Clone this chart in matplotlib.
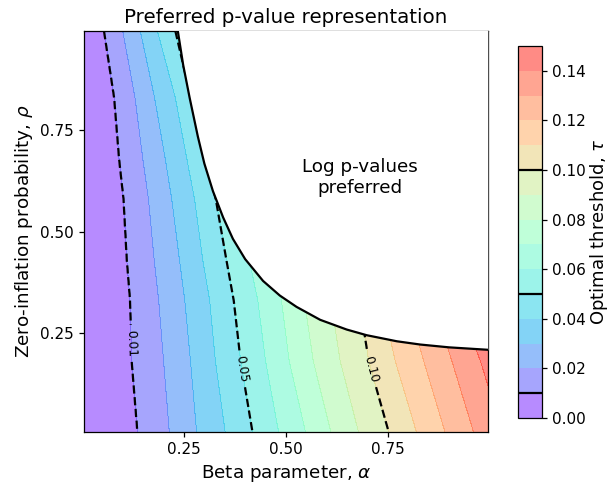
import numpy as np
import matplotlib
matplotlib.use("Agg")
import matplotlib.pyplot as plt

# Threshold levels shown as filled bands
band_levels = np.round(np.arange(0.0, 0.151, 0.01), 2)
line_levels = [0.01, 0.05, 0.10]

# Rows of zero-inflation probability at which threshold contours were read
rho_rows = [0.005, 0.18, 0.33, 0.43, 0.58, 0.68, 0.83, 0.995]

# Beta parameter where tau crosses each level (0.01 ... 0.14), one list per row
alpha_at_level = {
    0.005: [0.136, 0.214, 0.281, 0.351, 0.418, 0.482, 0.548, 0.610, 0.678, 0.752, 0.820, 0.890, 0.960, 1.030],
    0.18:  [0.122, 0.200, 0.266, 0.327, 0.389, 0.450, 0.508, 0.567, 0.633, 0.703, 0.768, 0.838, 0.907, 0.977],
    0.33:  [0.118, 0.188, 0.252, 0.313, 0.372, 0.431, 0.489, 0.545, 0.610, 0.680, 0.735, 0.795, 0.860, 0.920],
    0.43:  [0.110, 0.177, 0.239, 0.296, 0.354, 0.410, 0.470, 0.520, 0.580, 0.640, 0.700, 0.760, 0.820, 0.880],
    0.58:  [0.102, 0.163, 0.220, 0.276, 0.328, 0.380, 0.430, 0.480, 0.530, 0.590, 0.640, 0.700, 0.750, 0.810],
    0.68:  [0.091, 0.149, 0.204, 0.257, 0.303, 0.350, 0.400, 0.440, 0.490, 0.540, 0.590, 0.640, 0.690, 0.740],
    0.83:  [0.079, 0.130, 0.178, 0.229, 0.267, 0.310, 0.350, 0.390, 0.430, 0.470, 0.510, 0.550, 0.590, 0.630],
    0.995: [0.054, 0.100, 0.143, 0.185, 0.229, 0.270, 0.310, 0.350, 0.390, 0.430, 0.470, 0.510, 0.550, 0.590],
}

# Edge of the region where log p-values are preferred
boundary_alpha = [0.235, 0.248, 0.264, 0.284, 0.300, 0.321, 0.346, 0.370, 0.400, 0.444,
                  0.485, 0.526, 0.584, 0.649, 0.698, 0.772, 0.829, 0.900, 0.995]
boundary_rho = [0.995, 0.912, 0.830, 0.735, 0.668, 0.600, 0.535, 0.482, 0.432, 0.378,
                0.342, 0.314, 0.282, 0.258, 0.244, 0.229, 0.221, 0.214, 0.208]

# Build the tau field on a fine grid from the crossing positions
alpha = np.linspace(0.005, 0.995, 400)
rho = np.linspace(0.005, 0.995, 400)
crossing = np.array([alpha_at_level[r] for r in rho_rows])  # rows x levels
inner_levels = band_levels[1:-1]
tau = np.empty((rho.size, alpha.size))
for i, r in enumerate(rho):
    pos = np.array([np.interp(r, rho_rows, crossing[:, k]) for k in range(crossing.shape[1])])
    xp = np.concatenate([[0.0], pos, [pos[-1] + 0.07]])
    fp = np.concatenate([[0.0], inner_levels, [0.15]])
    tau[i] = np.interp(alpha, xp, fp)

A, R = np.meshgrid(alpha, rho)

fig = plt.figure(figsize=(6.09, 4.87), dpi=100)
ax = fig.add_axes([0.138, 0.113, 0.663, 0.823])
cax = fig.add_axes([0.8506, 0.1417, 0.0389, 0.7638])

cf = ax.contourf(A, R, tau, levels=band_levels, cmap="rainbow", alpha=0.5)
cl = ax.contour(A, R, tau, levels=line_levels, colors="k", linestyles="--", linewidths=1.6)
label_spots = [(0.125, 0.224), (0.399, 0.162), (0.716, 0.162)]
ax.clabel(cl, fmt="%.2f", fontsize=8.8, inline=True, manual=label_spots)

ax.fill_between(boundary_alpha, boundary_rho, 1.0, color="white", zorder=3, lw=0)
ax.plot(boundary_alpha, boundary_rho, color="k", lw=1.6, zorder=4)

ax.text(0.682, 0.633, "Log p-values\npreferred", ha="center", va="center",
        fontsize=13.2, zorder=5)

ax.set_xlim(0.005, 0.995)
ax.set_ylim(0.005, 0.995)
ax.set_xticks([0.25, 0.50, 0.75])
ax.set_yticks([0.25, 0.50, 0.75])
ax.set_xticklabels(["0.25", "0.50", "0.75"])
ax.set_yticklabels(["0.25", "0.50", "0.75"])
ax.tick_params(labelsize=11, width=0.9, length=3.8)
for s in ax.spines.values():
    s.set_linewidth(0.9)
ax.set_xlabel(r"Beta parameter, $\alpha$", fontsize=13.2)
ax.set_ylabel(r"Zero-inflation probability, $\rho$", fontsize=13.2)
ax.set_title("Preferred p-value representation", fontsize=14.3)

cbar = fig.colorbar(cf, cax=cax)
cbar.add_lines(cl)
cbar.set_ticks(np.round(np.arange(0.0, 0.141, 0.02), 2))
cbar.ax.tick_params(labelsize=11, width=0.9, length=3.8)
cbar.outline.set_linewidth(0.9)
cbar.set_label(r"Optimal threshold, $\tau$", fontsize=13, labelpad=2)

fig.savefig("out.png", dpi=100)
